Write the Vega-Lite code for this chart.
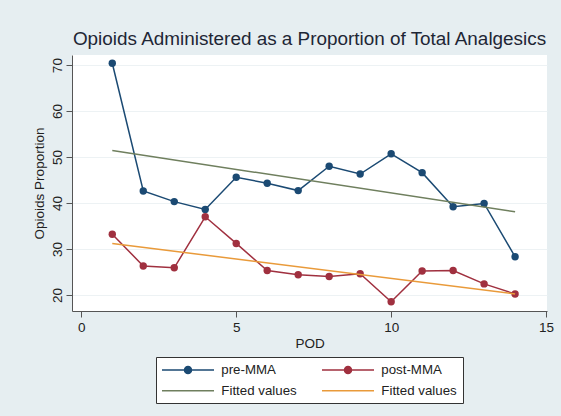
{
  "$schema": "https://vega.github.io/schema/vega-lite/v6.json",
  "width": 475,
  "height": 256,
  "autosize": {"type": "none"},
  "padding": {"left": 72, "top": 55, "right": 14, "bottom": 105},
  "background": "#e6eef1",
  "title": {
    "text": "Opioids Administered as a Proportion of Total Analgesics",
    "fontSize": 18.9,
    "font": "Liberation Sans",
    "fontWeight": "normal",
    "color": "#1e2635",
    "anchor": "middle",
    "offset": 6
  },
  "config": {
    "font": "Liberation Sans",
    "view": {"stroke": null, "fill": "#ffffff"},
    "axis": {
      "domainColor": "#555555",
      "tickColor": "#555555",
      "labelColor": "#222222",
      "titleColor": "#222222",
      "labelFont": "Liberation Sans",
      "titleFont": "Liberation Sans",
      "labelFontSize": 13.5,
      "titleFontSize": 13.5,
      "titleFontWeight": "normal",
      "tickSize": 6
    }
  },
  "datasets": {
    "obs": [
      {"pod": 1, "value": 70.4, "series": "pre-MMA"},
      {"pod": 2, "value": 42.6, "series": "pre-MMA"},
      {"pod": 3, "value": 40.3, "series": "pre-MMA"},
      {"pod": 4, "value": 38.6, "series": "pre-MMA"},
      {"pod": 5, "value": 45.6, "series": "pre-MMA"},
      {"pod": 6, "value": 44.3, "series": "pre-MMA"},
      {"pod": 7, "value": 42.7, "series": "pre-MMA"},
      {"pod": 8, "value": 48.0, "series": "pre-MMA"},
      {"pod": 9, "value": 46.3, "series": "pre-MMA"},
      {"pod": 10, "value": 50.7, "series": "pre-MMA"},
      {"pod": 11, "value": 46.6, "series": "pre-MMA"},
      {"pod": 12, "value": 39.2, "series": "pre-MMA"},
      {"pod": 13, "value": 39.9, "series": "pre-MMA"},
      {"pod": 14, "value": 28.3, "series": "pre-MMA"},
      {"pod": 1, "value": 33.2, "series": "post-MMA"},
      {"pod": 2, "value": 26.3, "series": "post-MMA"},
      {"pod": 3, "value": 25.9, "series": "post-MMA"},
      {"pod": 4, "value": 37.0, "series": "post-MMA"},
      {"pod": 5, "value": 31.2, "series": "post-MMA"},
      {"pod": 6, "value": 25.3, "series": "post-MMA"},
      {"pod": 7, "value": 24.4, "series": "post-MMA"},
      {"pod": 8, "value": 24.0, "series": "post-MMA"},
      {"pod": 9, "value": 24.6, "series": "post-MMA"},
      {"pod": 10, "value": 18.5, "series": "post-MMA"},
      {"pod": 11, "value": 25.2, "series": "post-MMA"},
      {"pod": 12, "value": 25.3, "series": "post-MMA"},
      {"pod": 13, "value": 22.4, "series": "post-MMA"},
      {"pod": 14, "value": 20.2, "series": "post-MMA"}
    ],
    "fit": [
      {"pod": 1, "value": 51.4, "series": "Fitted values"},
      {"pod": 14, "value": 38.1, "series": "Fitted values"},
      {"pod": 1, "value": 31.2, "series": "Fitted values "},
      {"pod": 14, "value": 20.2, "series": "Fitted values "}
    ]
  },
  "encoding": {
    "x": {
      "field": "pod",
      "type": "quantitative",
      "scale": {"domain": [-0.3, 15.03], "nice": false, "zero": false},
      "axis": {
        "title": "POD",
        "values": [0, 5, 10, 15],
        "grid": false,
        "labelPadding": 3,
        "titlePadding": 3,
        "labelFlush": false
      }
    },
    "y": {
      "field": "value",
      "type": "quantitative",
      "scale": {"domain": [16.5, 72.2], "nice": false, "zero": false},
      "axis": {
        "title": "Opioids Proportion",
        "values": [20, 30, 40, 50, 60, 70],
        "grid": true,
        "gridColor": "#edf2f4",
        "labelAngle": 270,
        "labelAlign": "center",
        "labelBaseline": "bottom",
        "labelPadding": 2,
        "titlePadding": 4,
        "labelFlush": false
      }
    },
    "color": {
      "field": "series",
      "type": "nominal",
      "scale": {
        "domain": ["pre-MMA", "post-MMA", "Fitted values", "Fitted values "],
        "range": ["#1b4a73", "#a0303f", "#6f7f5e", "#e99a3a"]
      },
      "legend": {
        "title": null,
        "orient": "none",
        "legendX": 84,
        "legendY": 302,
        "direction": "horizontal",
        "columns": 2,
        "strokeColor": "#333333",
        "fillColor": "#ffffff",
        "padding": 6,
        "cornerRadius": 0,
        "symbolSize": 100,
        "symbolStrokeWidth": 1.5,
        "labelFontSize": 13.3,
        "labelFont": "Liberation Sans",
        "labelColor": "#222222",
        "labelOffset": 46,
        "columnPadding": 22,
        "rowPadding": 6,
        "encode": {
          "symbols": {
            "update": {
              "x": {"value": 26},
              "shape": {"signal": "(datum.value === 'pre-MMA' || datum.value === 'post-MMA') ? 'M-5.2,0H5.2M0.7,0A0.7,0.7,0,1,1,-0.7,0A0.7,0.7,0,1,1,0.7,0Z' : 'M-5.2,0H5.2'"},
              "fill": {"scale": "color", "field": "value"},
              "stroke": {"scale": "color", "field": "value"},
              "fillOpacity": {"value": 1},
              "opacity": {"value": 1}
            }
          }
        }
      }
    }
  },
  "layer": [
    {
      "data": {"name": "obs"},
      "mark": {"type": "line", "strokeWidth": 1.5}
    },
    {
      "data": {"name": "obs"},
      "mark": {"type": "point", "filled": true, "size": 55, "opacity": 1}
    },
    {
      "data": {"name": "fit"},
      "mark": {"type": "line", "strokeWidth": 1.5}
    }
  ]
}
